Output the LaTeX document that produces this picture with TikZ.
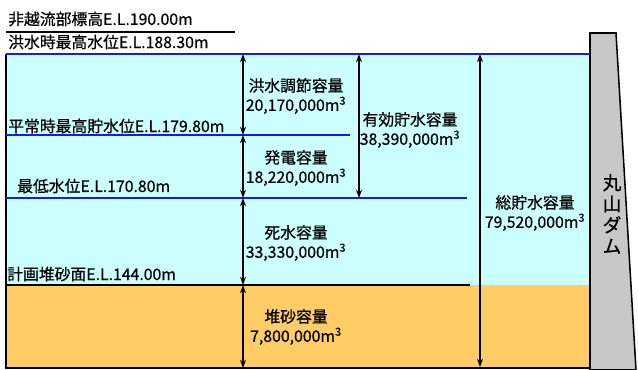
\documentclass[tikz,border=0pt]{standalone}
\usepackage{fontspec}
\setmainfont{Noto Sans CJK JP}[FakeBold=0.6]
\usetikzlibrary{arrows.meta}

\definecolor{water}{HTML}{CCFFFF}
\definecolor{sand}{HTML}{FFCC66}
\definecolor{damgray}{HTML}{C8C8C8}
\definecolor{level}{HTML}{1A1AE6}

\begin{document}
\begin{tikzpicture}[x=0.03cm, y=-0.03cm, >={Stealth[length=7pt, width=5pt]},
		lbl/.style={anchor=west, inner sep=0pt, font=\fontsize{13.5}{15}\selectfont},
		vol/.style={align=center, inner sep=0pt, font=\fontsize{13.5}{16.5}\selectfont},
		wl/.style={draw=level, line width=1.7pt},
		dim/.style={<->, line width=1.5pt}]
		
		\useasboundingbox (0,0) rectangle (638,370);
		
		% water and sediment
		\fill[water] (6,54) rectangle (590,285);
		\fill[sand] (6,285) rectangle (590,368);
		\draw[line width=1.5pt] (6,54) -- (6,368) -- (590,368);
		
		% dam body
		\filldraw[fill=damgray, draw=black, line width=1.3pt] (590,33) -- (616,33) -- (636,370) -- (590,370) -- cycle;
		
		% levels
		\draw[line width=1.5pt] (6,32) -- (235,32);
		\draw[wl] (6,54) -- (590,54);
		\draw[wl] (6,135) -- (350,135);
		\draw[wl] (6,198) -- (467,198);
		\draw[line width=1.7pt] (6,285) -- (470,285);
		
		% level labels
		\node[lbl] (crest) at (8,19) {非越流部標高E.L.190.00m};
		\node[lbl] (flood) at (8,42) {洪水時最高水位E.L.188.30m};
		\node[lbl] (normal) at (8,126) {平常時最高貯水位E.L.179.80m};
		\node[lbl] (minimum) at (17,186) {最低水位E.L.170.80m};
		\node[lbl] (sediment) at (7,274) {計画堆砂面E.L.144.00m};
		
		% arrow ends
		\coordinate (a1) at (243,54);
		\coordinate (a2) at (243,135);
		\coordinate (a3) at (243,198);
		\coordinate (a4) at (243,285);
		\coordinate (a5) at (243,368);
		\coordinate (b1) at (359,54);
		\coordinate (b2) at (359,198);
		\coordinate (c1) at (480,54);
		\coordinate (c2) at (480,367);
		
		\foreach \u/\l in {a1/a2, a2/a3, a3/a4, a4/a5, b1/b2, c1/c2} {
			\draw[dim] (\u) -- (\l);
		}
		
		% volumes
		\node[vol] (volflood) at (296,96) {洪水調節容量\\20,170,000m\textsuperscript{3}};
		\node[vol] (volpower) at (296,168) {発電容量\\18,220,000m\textsuperscript{3}};
		\node[vol] (voldead) at (296,243) {死水容量\\33,330,000m\textsuperscript{3}};
		\node[vol] (volsed) at (296,327) {堆砂容量\\7,800,000m\textsuperscript{3}};
		\node[vol] (voleff) at (410,130) {有効貯水容量\\38,390,000m\textsuperscript{3}};
		\node[vol] (voltotal) at (535,213) {総貯水容量\\79,520,000m\textsuperscript{3}};
		
		% dam name
		\node[align=center, inner sep=0pt, font=\fontsize{16}{18}\selectfont] (damname) at (612,214) {丸\\山\\ダ\\ム};
	\end{tikzpicture}
\end{document}
